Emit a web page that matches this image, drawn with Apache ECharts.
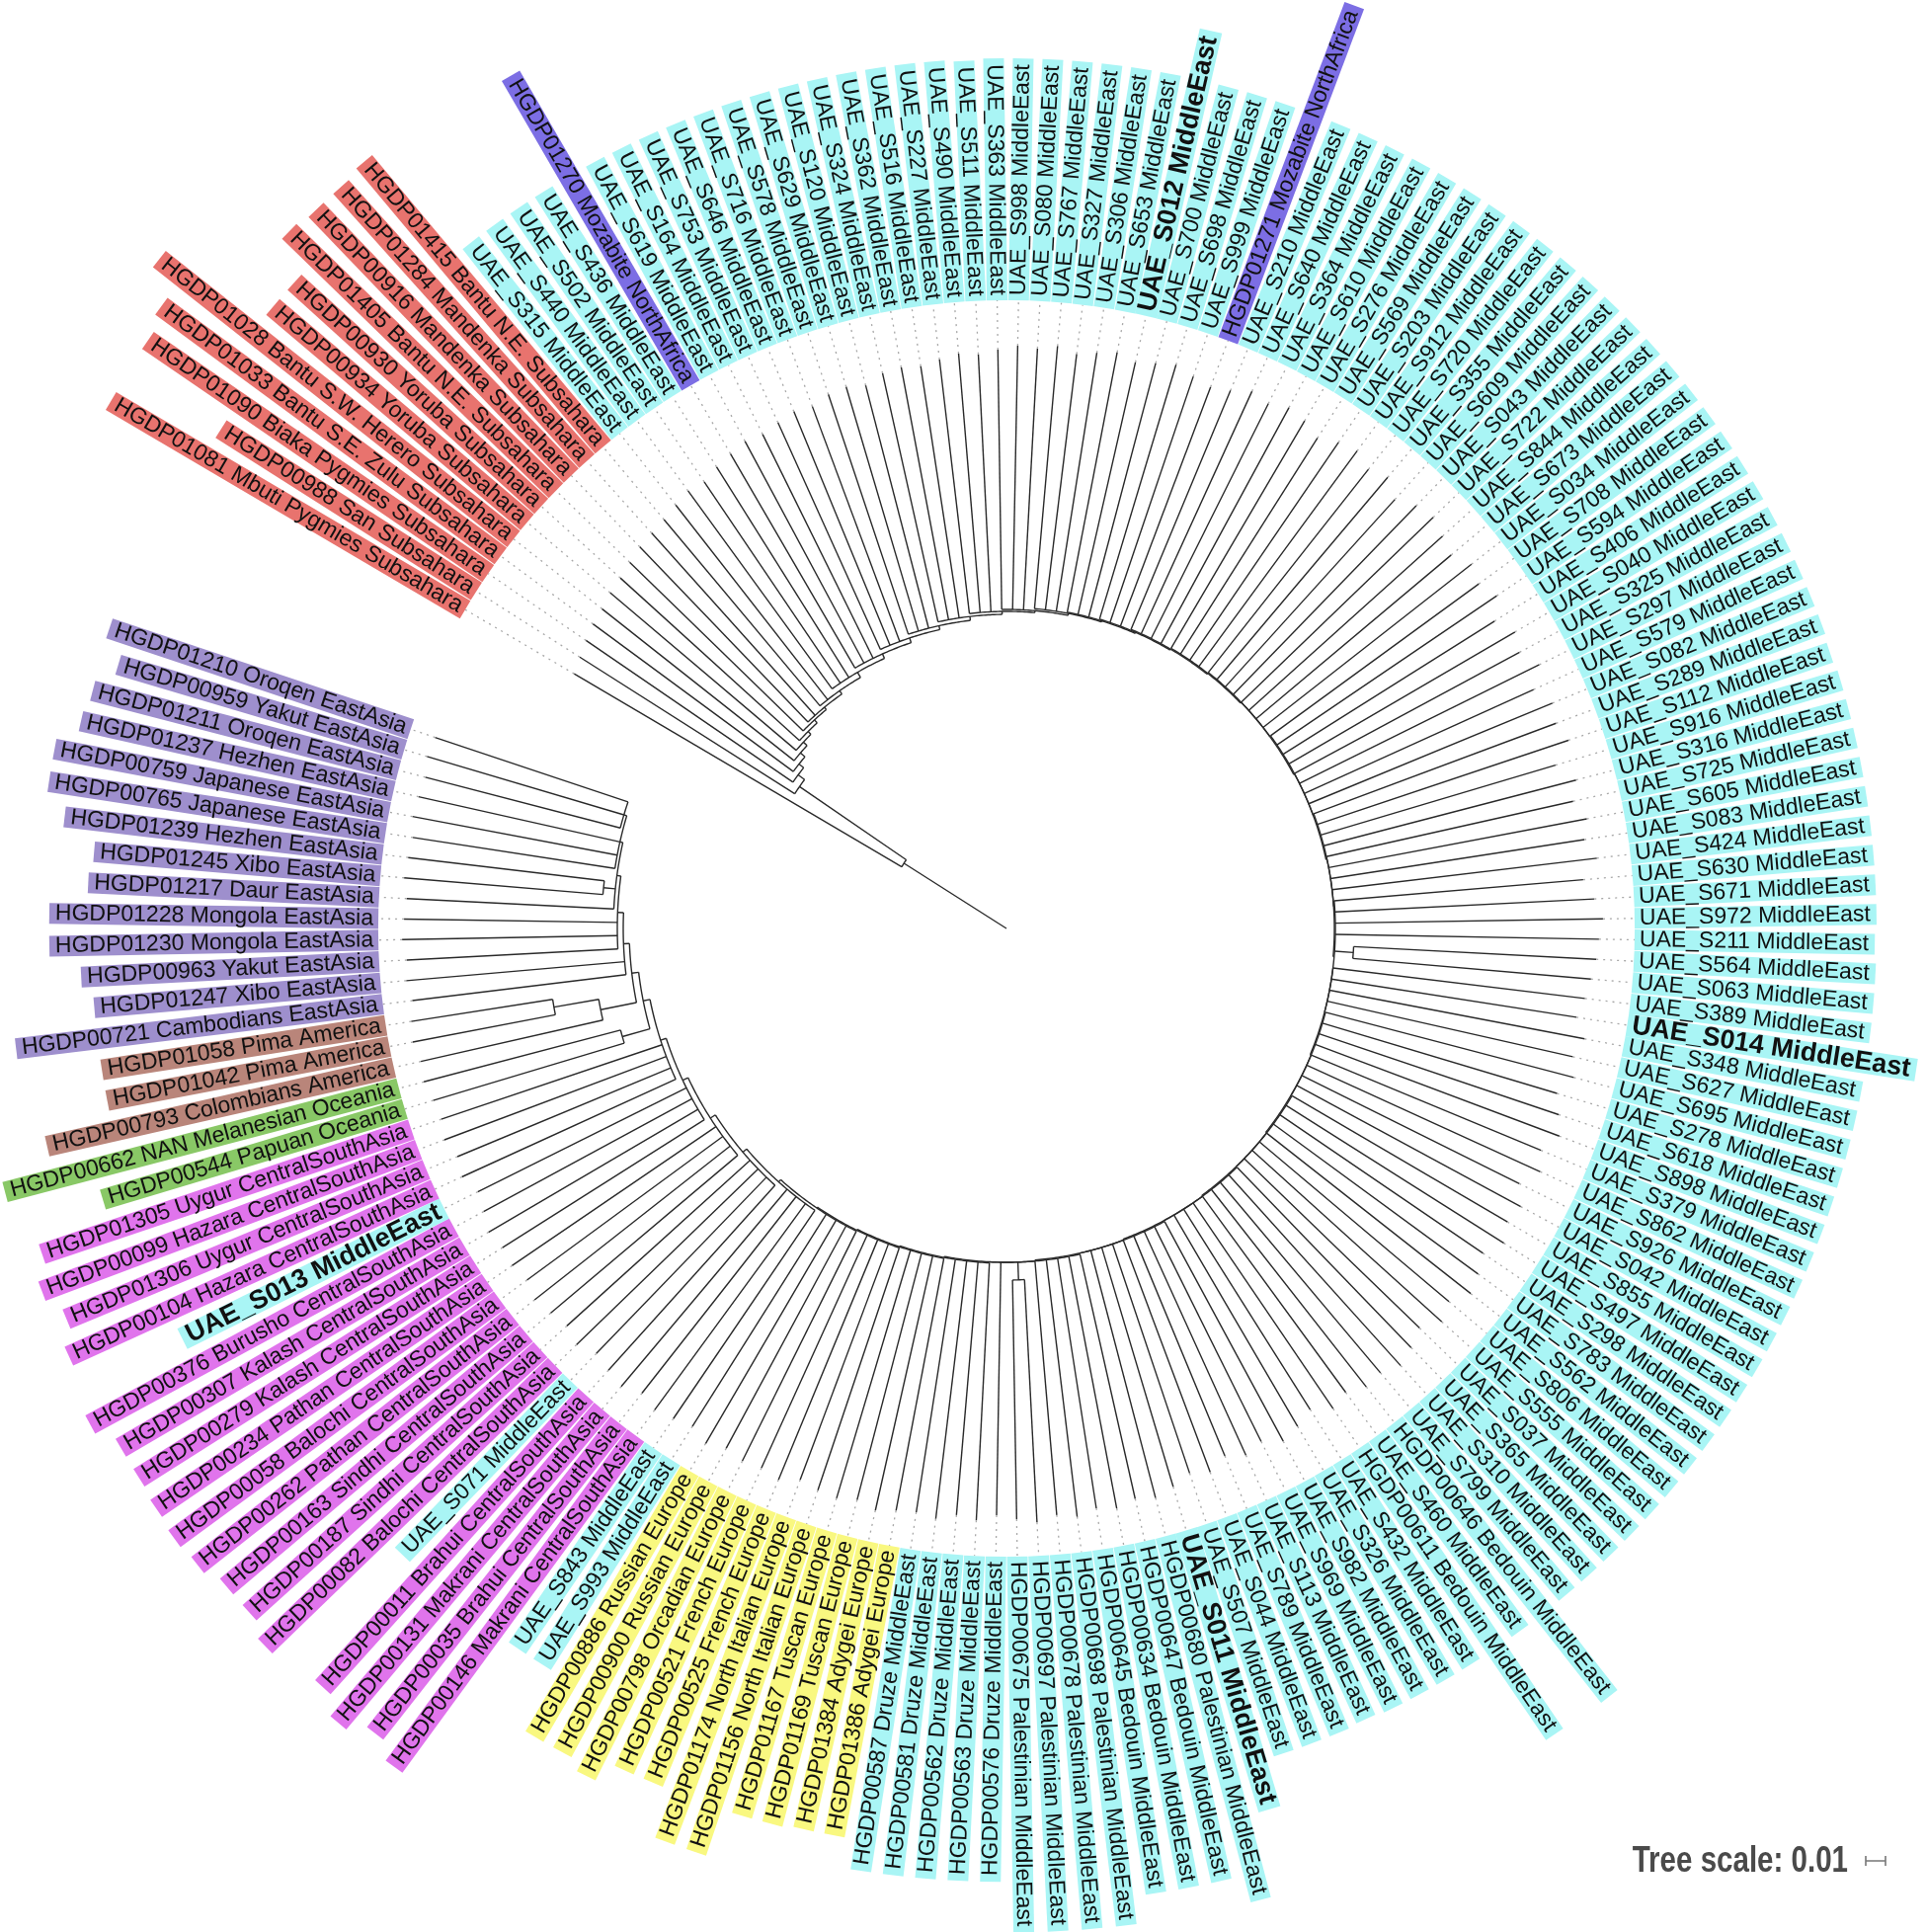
<!DOCTYPE html>
<html>
<head>
<meta charset="utf-8">
<title>Tree</title>
<script src="https://cdn.jsdelivr.net/npm/echarts@6.0.0/dist/echarts.min.js"></script>
<style>
	html, body { margin: 0; padding: 0; background: #fff; }
	#tree { width: 1950px; height: 1956px; }
</style>
</head>
<body>
<div id="tree"></div>
<script>
// leaves, clockwise starting at the root side
var leafLabels = [
	'HGDP01081 Mbuti Pygmies Subsahara', 'HGDP00988 San Subsahara', 'HGDP01090 Biaka Pygmies Subsahara',
	'HGDP01033 Bantu S.E. Zulu Subsahara', 'HGDP01028 Bantu S.W. Herero Subsahara', 'HGDP00934 Yoruba Subsahara',
	'HGDP00930 Yoruba Subsahara', 'HGDP01405 Bantu N.E. Subsahara', 'HGDP00916 Mandenka Subsahara',
	'HGDP01284 Mandenka Subsahara', 'HGDP01415 Bantu N.E. Subsahara',
	'UAE_S315 MiddleEast', 'UAE_S440 MiddleEast', 'UAE_S502 MiddleEast', 'UAE_S436 MiddleEast',
	'HGDP01270 Mozabite NorthAfrica',
	'UAE_S619 MiddleEast', 'UAE_S164 MiddleEast', 'UAE_S753 MiddleEast', 'UAE_S646 MiddleEast', 'UAE_S716 MiddleEast',
	'UAE_S578 MiddleEast', 'UAE_S629 MiddleEast', 'UAE_S120 MiddleEast', 'UAE_S324 MiddleEast', 'UAE_S362 MiddleEast',
	'UAE_S516 MiddleEast', 'UAE_S227 MiddleEast', 'UAE_S490 MiddleEast', 'UAE_S511 MiddleEast', 'UAE_S363 MiddleEast',
	'UAE_S998 MiddleEast', 'UAE_S080 MiddleEast', 'UAE_S767 MiddleEast', 'UAE_S327 MiddleEast', 'UAE_S306 MiddleEast',
	'UAE_S653 MiddleEast', 'UAE_S012 MiddleEast', 'UAE_S700 MiddleEast', 'UAE_S698 MiddleEast', 'UAE_S999 MiddleEast',
	'HGDP01271 Mozabite NorthAfrica',
	'UAE_S210 MiddleEast', 'UAE_S640 MiddleEast', 'UAE_S364 MiddleEast', 'UAE_S610 MiddleEast', 'UAE_S276 MiddleEast',
	'UAE_S569 MiddleEast', 'UAE_S203 MiddleEast', 'UAE_S912 MiddleEast', 'UAE_S720 MiddleEast', 'UAE_S355 MiddleEast',
	'UAE_S609 MiddleEast', 'UAE_S043 MiddleEast', 'UAE_S722 MiddleEast', 'UAE_S844 MiddleEast', 'UAE_S673 MiddleEast',
	'UAE_S034 MiddleEast', 'UAE_S708 MiddleEast', 'UAE_S594 MiddleEast', 'UAE_S406 MiddleEast', 'UAE_S040 MiddleEast',
	'UAE_S325 MiddleEast', 'UAE_S297 MiddleEast', 'UAE_S579 MiddleEast', 'UAE_S082 MiddleEast', 'UAE_S289 MiddleEast',
	'UAE_S112 MiddleEast', 'UAE_S916 MiddleEast', 'UAE_S316 MiddleEast', 'UAE_S725 MiddleEast', 'UAE_S605 MiddleEast',
	'UAE_S083 MiddleEast', 'UAE_S424 MiddleEast', 'UAE_S630 MiddleEast', 'UAE_S671 MiddleEast', 'UAE_S972 MiddleEast',
	'UAE_S211 MiddleEast', 'UAE_S564 MiddleEast', 'UAE_S063 MiddleEast', 'UAE_S389 MiddleEast', 'UAE_S014 MiddleEast',
	'UAE_S348 MiddleEast', 'UAE_S627 MiddleEast', 'UAE_S695 MiddleEast', 'UAE_S278 MiddleEast', 'UAE_S618 MiddleEast',
	'UAE_S898 MiddleEast', 'UAE_S379 MiddleEast', 'UAE_S862 MiddleEast', 'UAE_S926 MiddleEast', 'UAE_S042 MiddleEast',
	'UAE_S855 MiddleEast', 'UAE_S497 MiddleEast', 'UAE_S298 MiddleEast', 'UAE_S783 MiddleEast', 'UAE_S562 MiddleEast',
	'UAE_S806 MiddleEast', 'UAE_S555 MiddleEast', 'UAE_S037 MiddleEast', 'UAE_S365 MiddleEast', 'UAE_S310 MiddleEast',
	'UAE_S799 MiddleEast', 'HGDP00646 Bedouin MiddleEast', 'UAE_S460 MiddleEast', 'HGDP00611 Bedouin MiddleEast',
	'UAE_S432 MiddleEast', 'UAE_S326 MiddleEast', 'UAE_S982 MiddleEast', 'UAE_S969 MiddleEast', 'UAE_S113 MiddleEast',
	'UAE_S789 MiddleEast', 'UAE_S044 MiddleEast', 'UAE_S507 MiddleEast', 'UAE_S011 MiddleEast',
	'HGDP00680 Palestinian MiddleEast', 'HGDP00647 Bedouin MiddleEast', 'HGDP00634 Bedouin MiddleEast',
	'HGDP00645 Bedouin MiddleEast', 'HGDP00698 Palestinian MiddleEast', 'HGDP00678 Palestinian MiddleEast',
	'HGDP00697 Palestinian MiddleEast', 'HGDP00675 Palestinian MiddleEast', 'HGDP00576 Druze MiddleEast',
	'HGDP00563 Druze MiddleEast', 'HGDP00562 Druze MiddleEast', 'HGDP00581 Druze MiddleEast', 'HGDP00587 Druze MiddleEast',
	'HGDP01386 Adygei Europe', 'HGDP01384 Adygei Europe', 'HGDP01169 Tuscan Europe', 'HGDP01167 Tuscan Europe',
	'HGDP01156 North Italian Europe', 'HGDP01174 North Italian Europe', 'HGDP00525 French Europe',
	'HGDP00521 French Europe', 'HGDP00798 Orcadian Europe', 'HGDP00900 Russian Europe', 'HGDP00886 Russian Europe',
	'UAE_S993 MiddleEast', 'UAE_S843 MiddleEast',
	'HGDP00146 Makrani CentralSouthAsia', 'HGDP00035 Brahui CentralSouthAsia', 'HGDP00131 Makrani CentralSouthAsia',
	'HGDP00011 Brahui CentralSouthAsia', 'UAE_S071 MiddleEast', 'HGDP00082 Balochi CentralSouthAsia',
	'HGDP00187 Sindhi CentralSouthAsia', 'HGDP00163 Sindhi CentralSouthAsia', 'HGDP00262 Pathan CentralSouthAsia',
	'HGDP00058 Balochi CentralSouthAsia', 'HGDP00234 Pathan CentralSouthAsia', 'HGDP00279 Kalash CentralSouthAsia',
	'HGDP00307 Kalash CentralSouthAsia', 'HGDP00376 Burusho CentralSouthAsia', 'UAE_S013 MiddleEast',
	'HGDP00104 Hazara CentralSouthAsia', 'HGDP01306 Uygur CentralSouthAsia', 'HGDP00099 Hazara CentralSouthAsia',
	'HGDP01305 Uygur CentralSouthAsia', 'HGDP00544 Papuan Oceania', 'HGDP00662 NAN Melanesian Oceania',
	'HGDP00793 Colombians America', 'HGDP01042 Pima America', 'HGDP01058 Pima America',
	'HGDP00721 Cambodians EastAsia', 'HGDP01247 Xibo EastAsia', 'HGDP00963 Yakut EastAsia', 'HGDP01230 Mongola EastAsia',
	'HGDP01228 Mongola EastAsia', 'HGDP01217 Daur EastAsia', 'HGDP01245 Xibo EastAsia', 'HGDP01239 Hezhen EastAsia',
	'HGDP00765 Japanese EastAsia', 'HGDP00759 Japanese EastAsia', 'HGDP01237 Hezhen EastAsia',
	'HGDP01211 Oroqen EastAsia', 'HGDP00959 Yakut EastAsia', 'HGDP01210 Oroqen EastAsia'
];

// internal node each leaf hangs from
var leafParent = [
	1, 2, 3, 4, 5, 6, 7, 8, 9, 9,
	10, 10, 11, 11, 11, 12, 12, 12, 13, 13,
	13, 14, 14, 14, 15, 15, 15, 16, 16, 16,
	17, 17, 17, 18, 18, 18, 19, 19, 19, 20,
	20, 20, 21, 21, 21, 21, 22, 22, 22, 22,
	23, 23, 23, 23, 24, 24, 24, 24, 25, 25,
	25, 25, 26, 26, 26, 26, 27, 27, 27, 27,
	28, 28, 28, 28, 29, 29, 29, 29, 57, 57,
	30, 30, 30, 30, 31, 31, 31, 31, 32, 32,
	32, 32, 33, 33, 33, 33, 34, 34, 34, 34,
	35, 35, 35, 35, 36, 36, 36, 36, 37, 37,
	37, 37, 38, 38, 38, 38, 39, 39, 39, 39,
	40, 58, 58, 40, 41, 41, 41, 41, 42, 42,
	42, 42, 43, 43, 43, 43, 44, 44, 44, 44,
	45, 45, 45, 45, 46, 46, 46, 46, 47, 47,
	47, 47, 48, 48, 48, 48, 49, 49, 49, 49,
	59, 59, 60, 61, 61, 52, 52, 53, 53, 53,
	54, 62, 62, 55, 55, 55, 56, 56, 56
];

// distance of each leaf tip from the root
var leafTip = [
	.254, .256, .258, .260, .261, .263, .264, .266, .268, .269,
	.270, .272, .274, .273, .276, .278, .280, .279, .281, .283,
	.282, .285, .286, .284, .288, .289, .288, .290, .292, .291,
	.293, .295, .294, .296, .293, .295, .297, .294, .296, .298,
	.295, .293, .295, .299, .297, .300, .298, .294, .298, .300,
	.296, .299, .293, .298, .300, .297, .294, .299, .296, .300,
	.292, .298, .295, .301, .293, .299, .297, .300, .290, .298,
	.294, .299, .296, .301, .293, .298, .302, .300, .299, .297,
	.295, .292, .298, .294, .297, .291, .295, .299, .293, .297,
	.290, .296, .294, .298, .292, .296, .299, .293, .297, .291,
	.295, .298, .294, .295, .291, .294, .288, .292, .295, .290,
	.293, .289, .294, .291, .295, .298, .296, .299, .297, .300,
	.298, .301, .299, .297, .300, .298, .301, .299, .300, .302,
	.299, .301, .300, .298, .302, .300, .301, .299, .302, .298,
	.300, .302, .299, .303, .301, .299, .303, .300, .302, .304,
	.301, .303, .302, .304, .301, .299, .303, .301, .304, .302,
	.303, .305, .304, .306, .305, .303, .305, .304, .306, .305,
	.304, .306, .305, .304, .306, .305, .304, .306, .305
];

// internal nodes: parent index and distance from the root
var nodeParent = [
	-1, 0, 1, 2, 3, 4, 5, 6, 7, 8, 9,
	10, 11, 12, 13, 14, 15, 16, 17, 18, 19,
	20, 21, 22, 23, 24, 25, 26, 27, 28, 29,
	30, 31, 32, 33, 34, 35, 36, 37, 38, 39,
	40, 41, 42, 43, 44, 45, 46, 47, 48, 49,
	50, 51, 52, 53, 54, 55,
	29, 40, 50, 51, 60, 54
];
var nodeDepth = [
	0, .0615, .127, .131, .134, .137, .1395, .1415, .1435, .145, .147,
	.150, .1525, .155, .157, .159, .1605, .1615, .1625, .163, .1635,
	.164, .1645, .165, .165, .1655, .1655, .166, .166, .1665, .1665,
	.167, .167, .1675, .1675, .168, .168, .1685, .1685, .169, .169,
	.1695, .170, .1705, .171, .1725, .175, .178, .181, .184, .1875,
	.191, .194, .197, .199, .2005, .202,
	.176, .178, .202, .2095, .2325, .205
];

var boldLabels = ['UAE_S012 MiddleEast', 'UAE_S014 MiddleEast', 'UAE_S011 MiddleEast', 'UAE_S013 MiddleEast'];

var regionColors = {
	Subsahara: '#e8736e',
	MiddleEast: '#a9f5f5',
	NorthAfrica: '#7c6ee4',
	EastAsia: '#9e8fcd',
	America: '#b9857a',
	Oceania: '#89c866',
	CentralSouthAsia: '#e074ec',
	Europe: '#f9f880'
};

var firstAngle = 210.5, leafStep = 1.955, labelRadius = 0.318;
var lineColor = '#2a2a2a', fontFamily = '"Liberation Sans", Arial, sans-serif';

function leafAngle(i) {
	return firstAngle + i * leafStep;
}
function wrap(a) {
	return ((a % 360) + 360) % 360;
}
function pt(api, r, a) {
	return api.coord([r, wrap(a)]);
}

// node angle = middle of its children
var childAngles = [], nodeAngle = [], nodeSpan = [];
for (var k = 0; k < nodeParent.length; k++) childAngles.push([]);
for (var i = 0; i < leafLabels.length; i++) childAngles[leafParent[i]].push(leafAngle(i));
for (var k = nodeParent.length - 1; k >= 0; k--) {
	var lo = Math.min.apply(null, childAngles[k]);
	var hi = Math.max.apply(null, childAngles[k]);
	nodeSpan[k] = [lo, hi];
	nodeAngle[k] = (lo + hi) / 2;
	if (nodeParent[k] >= 0) childAngles[nodeParent[k]].push(nodeAngle[k]);
}

function renderNode(params, api) {
	var k = params.dataIndex;
	var r = nodeDepth[k], span = nodeSpan[k];
	var children = [];
	if (span[1] > span[0]) {
		var pts = [];
		for (var a = span[0]; a < span[1]; a += 0.4) pts.push(pt(api, r, a));
		pts.push(pt(api, r, span[1]));
		children.push({ type: 'polyline', shape: { points: pts }, style: { stroke: lineColor, fill: 'none', lineWidth: 1.4 } });
	}
	if (nodeParent[k] >= 0) {
		var p0 = pt(api, nodeDepth[nodeParent[k]], nodeAngle[k]);
		var p1 = pt(api, r, nodeAngle[k]);
		children.push({ type: 'line', shape: { x1: p0[0], y1: p0[1], x2: p1[0], y2: p1[1] }, style: { stroke: lineColor, lineWidth: 1.4 } });
	}
	return { type: 'group', children: children };
}

function renderLeaf(params, api) {
	var i = params.dataIndex;
	var a = leafAngle(i);
	var label = leafLabels[i];
	var region = label.split(' ').pop();
	var bold = boldLabels.indexOf(label) >= 0;
	var p0 = pt(api, nodeDepth[leafParent[i]], a);
	var p1 = pt(api, leafTip[i], a);
	var pl = pt(api, labelRadius, a);
	var c = pt(api, 0, a);
	var phi = Math.atan2(pl[1] - c[1], pl[0] - c[0]);
	var right = Math.cos(phi) >= 0;
	return {
		type: 'group',
		children: [
			{ type: 'line', shape: { x1: p0[0], y1: p0[1], x2: p1[0], y2: p1[1] }, style: { stroke: lineColor, lineWidth: 1.4 } },
			{ type: 'line', shape: { x1: p1[0], y1: p1[1], x2: pl[0], y2: pl[1] }, style: { stroke: '#a8a8a8', lineWidth: 1.3, lineDash: [2, 5] } },
			{
				type: 'text',
				x: pl[0],
				y: pl[1],
				rotation: right ? -phi : Math.PI - phi,
				style: {
					text: label,
					fontFamily: fontFamily,
					fontSize: bold ? 27 : 23,
					fontWeight: bold ? 'bold' : 'normal',
					fill: '#111',
					align: right ? 'left' : 'right',
					verticalAlign: 'middle',
					backgroundColor: regionColors[region],
					padding: right ? [1, 6, 0, 5] : [1, 5, 0, 6],
					lineHeight: bold ? 22 : 20
				}
			}
		]
	};
}

var myChart = echarts.init(document.getElementById('tree'));
option = {
	backgroundColor: '#ffffff',
	animation: false,
	polar: {
		center: [1019, 940],
		radius: 800
	},
	angleAxis: {
		type: 'value',
		min: 0,
		max: 360,
		startAngle: 0,
		clockwise: true,
		show: false
	},
	radiusAxis: {
		type: 'value',
		min: 0,
		max: 0.4,
		show: false
	},
	series: [ {
		name: 'nodes',
		type: 'custom',
		coordinateSystem: 'polar',
		silent: true,
		renderItem: renderNode,
		data: nodeDepth.map(function (d, k) { return [d, wrap(nodeAngle[k])]; })
	}, {
		name: 'leaves',
		type: 'custom',
		coordinateSystem: 'polar',
		silent: true,
		renderItem: renderLeaf,
		data: leafTip.map(function (t, i) { return [t, wrap(leafAngle(i))]; })
	} ]
};
myChart.setOption(option);

// scale bar: 0.01 tree units through the radius axis
var barLen = 20;
try {
	barLen = myChart.convertToPixel({ seriesIndex: 0 }, [0.01, 0])[0] - myChart.convertToPixel({ seriesIndex: 0 }, [0, 0])[0];
} catch (e) {}
var bx = 1889, by = 1884;
myChart.setOption({
	graphic: [ {
		type: 'text',
		x: 1871,
		y: 1885,
		scaleX: 0.82,
		style: {
			text: 'Tree scale: 0.01',
			font: 'bold 36px ' + fontFamily,
			fill: '#4a4a4a',
			align: 'right',
			verticalAlign: 'middle'
		}
	}, {
		type: 'polyline',
		shape: { points: [ [bx, by - 5], [bx, by + 5], [bx, by], [bx + barLen, by], [bx + barLen, by - 5], [bx + barLen, by + 5] ] },
		style: { stroke: '#777', fill: 'none', lineWidth: 1.6 }
	} ]
});
</script>
</body>
</html>
